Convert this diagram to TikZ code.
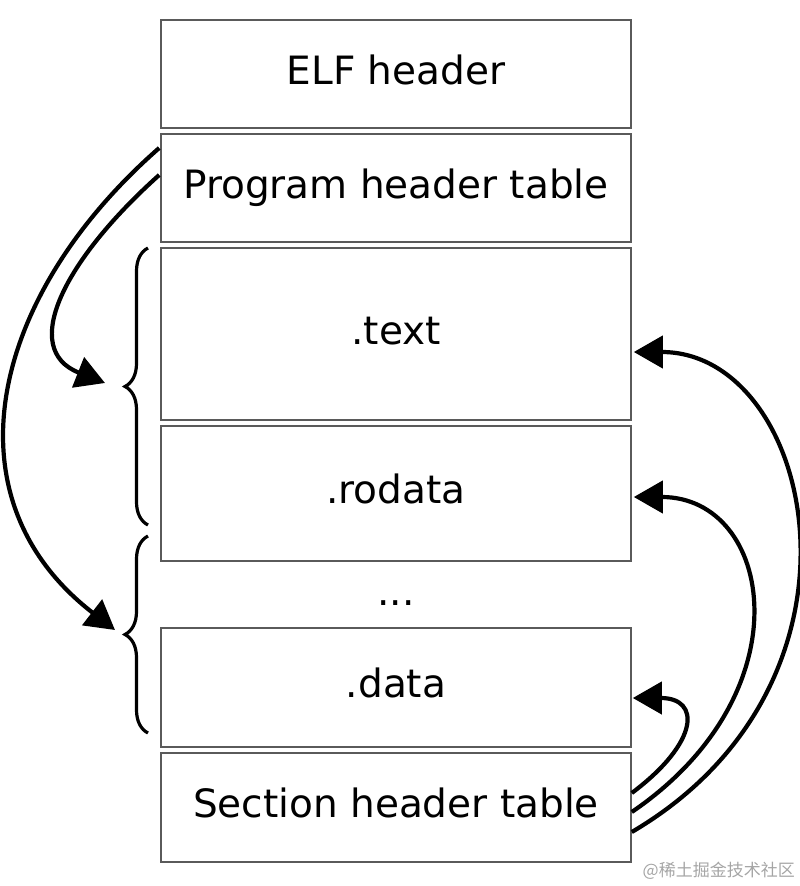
\documentclass[tikz,border=0pt]{standalone}
\usepackage{fontspec}
\setmainfont{DejaVu Sans}
\newfontfamily\cjkfont{Noto Sans CJK SC}
\usepackage{xcolor}
\definecolor{boxgray}{RGB}{90,90,90}
\definecolor{markgray}{RGB}{165,165,165}
\usetikzlibrary{arrows.meta}
\usetikzlibrary{decorations.pathreplacing}
\newcommand{\widthsection}{470pt}
\newcommand{\sizelabel}{\fontsize{39}{47}\selectfont}
\tikzset{
    section/.style={draw=boxgray, line width=1.6pt, rectangle, inner sep=0pt, minimum width=\widthsection, font=\sizelabel, text height=29.6pt, text depth=9.4pt},
    gap/.style={inner sep=0pt, font=\sizelabel},
    link/.style={line width=4.2pt, -{Triangle[length=29pt, width=32pt]}},
    curly/.style={line width=3.2pt, decorate, decoration={brace, amplitude=23pt}},
    watermark/.style={anchor=east, inner sep=0pt, text=markgray, font=\cjkfont\fontsize{17}{20}\selectfont}
}

\begin{document}
\begin{tikzpicture}[x=1pt, y=-1pt]
      \useasboundingbox (0,0) rectangle (800,886);

      \path
          (396,74) node[section, minimum height=108pt] (elf) {ELF header}
          (396,188) node[section, minimum height=108pt] (pht) {Program header table}
          (396,334) node[section, minimum height=172pt] (text) {.text}
          (396,493.5) node[section, minimum height=135pt] (rodata) {.rodata}
          (396,603) node[gap] (dots) {...}
          (396,687.5) node[section, minimum height=119pt] (data) {.data}
          (396,807.5) node[section, minimum height=109pt] (sht) {Section header table}
          (795,871) node[watermark] (mark) {@稀土掘金技术社区};

      % segments covered by the program header table
      \draw[curly] (148,525) -- (148,248);
      \draw[curly] (148,733) -- (148,536);

      \path
          (pht.west) +(-1,-40) coordinate (pht-out-outer)
          (pht.west) +(-1,-13) coordinate (pht-out-inner)
          (105,383) coordinate (seg-1)
          (115,630) coordinate (seg-2)
          (sht.east) +(0,-14.5) coordinate (sht-out-data)
          (sht.east) +(0,4.5) coordinate (sht-out-rodata)
          (sht.east) +(0,24.5) coordinate (sht-out-text)
          (text.east |- 0,352) +(2,0) coordinate (text-in)
          (rodata.east |- 0,497) +(2,0) coordinate (rodata-in)
          (data.east |- 0,698) +(1,0) coordinate (data-in);

      \draw[link] (pht-out-inner) .. controls +(-95,85) and +(-86,-34) .. (seg-1);
      \draw[link] (pht-out-outer) .. controls +(-168,147) and +(-172,-133) .. (seg-2);

      \draw[link] (sht-out-data) .. controls +(68,-51) and +(68,0) .. (data-in);
      \draw[link] (sht-out-rodata) .. controls +(176,-120) and +(139,0) .. (rodata-in);
      \draw[link] (sht-out-text) .. controls +(257,-151) and +(180,0) .. (text-in);
\end{tikzpicture}
\end{document}
